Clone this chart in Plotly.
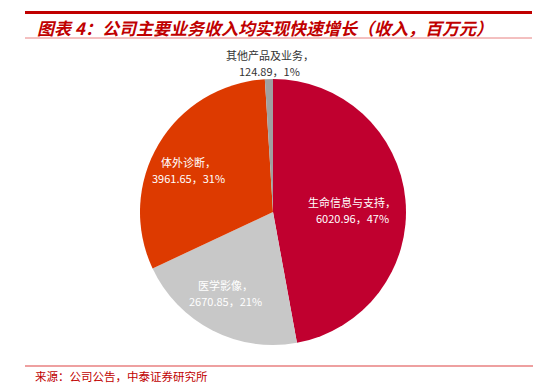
import plotly.graph_objects as go

categories = ["生命信息与支持", "医学影像", "体外诊断", "其他产品及业务"]
values = [6020.96, 2670.85, 3961.65, 124.89]
percents = ["47%", "21%", "31%", "1%"]
colors = ["#C0002F", "#C8C8C8", "#DD3A00", "#A0A0A0"]

W, H = 535, 385
cx, cy, r = 273, 212, 133

fig = go.Figure(go.Pie(
    labels=categories, values=values, sort=False, direction="clockwise",
    rotation=0, marker=dict(colors=colors, line=dict(width=0)),
    textinfo="none", hoverinfo="label+value+percent", showlegend=False,
    domain=dict(x=[(cx - r) / W, (cx + r) / W], y=[1 - (cy + r) / H, 1 - (cy - r) / H]),
))

font = "Noto Sans CJK SC"
# (x center, y of first line, colour)
label_pos = [(352, 202, "white"), (225, 285, "white"), (188, 162, "white"), (270, 55, "#333333")]
for cat, v, p, (x, y, c) in zip(categories, values, percents, label_pos):
    for i, line in enumerate([f"{cat}，", f"{v:.2f}，{p}"]):
        fig.add_annotation(x=x / W, y=1 - (y + 15.5 * i) / H, xref="paper", yref="paper",
                           text=line, showarrow=False, yanchor="middle",
                           font=dict(family=font, size=11, color=c), align="center")

fig.add_annotation(x=35 / W, y=1 - 27 / H, xref="paper", yref="paper", xanchor="left",
                   yanchor="middle",
                   text="<b><i>图表 4：公司主要业务收入均实现快速增长（收入，百万元）</i></b>",
                   showarrow=False, font=dict(family=font, size=17, color="#C00000"))
fig.add_annotation(x=33 / W, y=1 - 376 / H, xref="paper", yref="paper", xanchor="left",
                   yanchor="middle",
                   text="来源：公司公告，中泰证券研究所", showarrow=False,
                   font=dict(family=font, size=11.5, color="#C00000"))

fig.add_shape(type="line", xref="paper", yref="paper", x0=25 / W, x1=532 / W,
              y0=1 - 12.5 / H, y1=1 - 12.5 / H, line=dict(color="#C00000", width=3))
fig.add_shape(type="line", xref="paper", yref="paper", x0=25 / W, x1=532 / W,
              y0=1 - 38 / H, y1=1 - 38 / H, line=dict(color="#E88080", width=1))
fig.add_shape(type="line", xref="paper", yref="paper", x0=25 / W, x1=533 / W,
              y0=1 - 366 / H, y1=1 - 366 / H, line=dict(color="#E88080", width=1.5))

fig.update_layout(width=W, height=H, margin=dict(l=0, r=0, t=0, b=0),
                  paper_bgcolor="white", plot_bgcolor="white")
fig.write_html("out.html", config={"displayModeBar": False},
               post_script="document.body.style.margin='0';")
